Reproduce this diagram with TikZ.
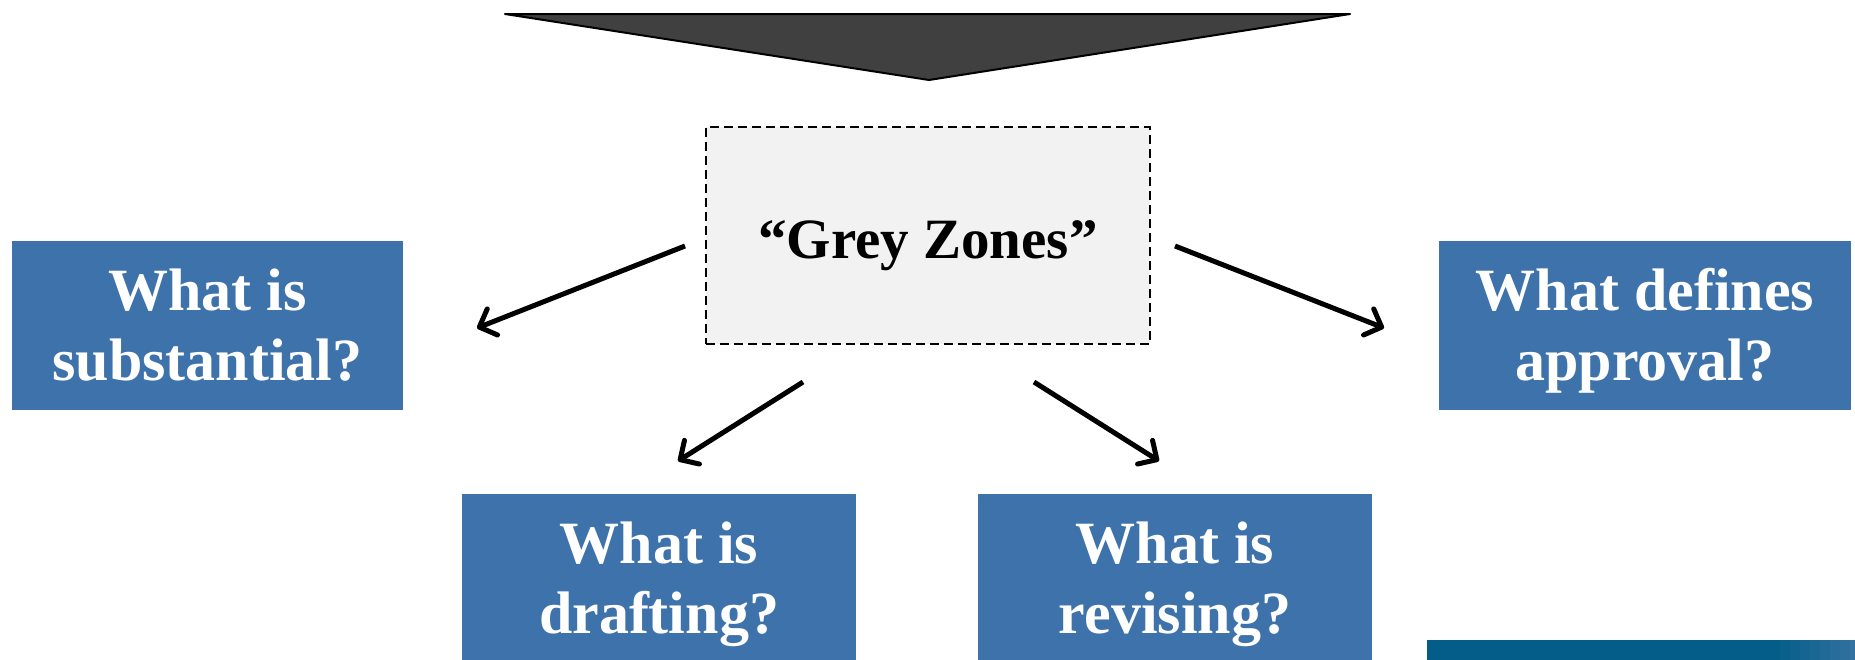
\documentclass[tikz,border=0pt]{standalone}
\usepackage{fontspec}
\setmainfont{Liberation Serif}
\usetikzlibrary{positioning, arrows.meta}

\definecolor{boxblue}{HTML}{3E72AA}
\definecolor{zonegrey}{HTML}{F2F2F2}
\definecolor{funnelgrey}{HTML}{404040}
\definecolor{barteal}{HTML}{035D88}
\definecolor{barlight}{HTML}{3371A0}

\tikzset{
    question/.style={fill=boxblue, text=white, align=center, inner sep=0pt,
        minimum height=169pt, text height=109pt, text depth=0pt,
        font=\fontsize{60}{70}\selectfont\bfseries},
    zone/.style={draw, fill=zonegrey, dash pattern=on 9pt off 5pt, line width=2pt,
        minimum width=444pt, minimum height=217pt, inner sep=0pt,
        text height=45pt, text depth=0pt,
        font=\fontsize{57}{70}\selectfont\bfseries},
    arr/.style={line width=5pt, -{Straight Barb[length=14pt, width=28pt, round]}}
}

\begin{document}
\begin{tikzpicture}[x=1pt, y=-1pt]
        \clip (0, 0) rectangle (1855, 659);

        % funnel on top
        \draw[fill=funnelgrey, line width=2pt, line join=round]
            (505, 14) -- (1350, 14) -- (929, 80) -- cycle;

        \node[zone] (grey) at (928, 235.5) {“Grey Zones”};

        \node[question, minimum width=391pt] (subst) at (207.5, 325.5) {What is\\substantial?};
        \node[question, minimum width=412pt] (approv) at (1645, 325.5) {What defines\\approval?};
        \node[question, minimum width=394pt] (draft) at (659, 578.5) {What is\\drafting?};
        \node[question, minimum width=394pt] (revis) at (1175, 578.5) {What is\\revising?};

        % arrow ends
        \coordinate (gL) at (685, 246);
        \coordinate (gR) at (1175, 246);
        \coordinate (gBL) at (803, 382);
        \coordinate (gBR) at (1034, 382);
        \coordinate (toSubst) at (477, 328);
        \coordinate (toApprov) at (1384, 328);
        \coordinate (toDraft) at (678, 461);
        \coordinate (toRevis) at (1159, 461);

        \draw[arr] (gL) -- (toSubst);
        \draw[arr] (gR) -- (toApprov);
        \draw[arr] (gBL) -- (toDraft);
        \draw[arr] (gBR) -- (toRevis);

        % bar in the corner
        \fill[barteal] (1427, 640) rectangle (1771, 660);
        \foreach \i in {0,...,8} {
            \pgfmathsetmacro{\p}{\i*12.5}
            \fill[barlight!\p!barteal] (1770+\i*10, 640) rectangle (1781+\i*10, 660);
        }
    \end{tikzpicture}
\end{document}
